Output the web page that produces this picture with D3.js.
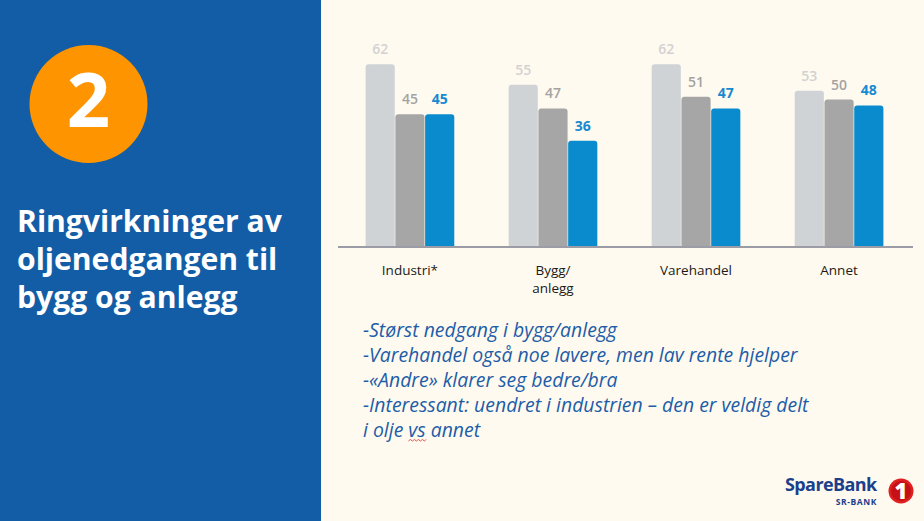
<!DOCTYPE html>
<html><head><meta charset="utf-8">
<script src="https://cdn.jsdelivr.net/npm/d3@7"></script>
<style>html,body{margin:0;padding:0;background:#FFFAEF;overflow:hidden}</style>
</head><body>
<svg id="c" width="924" height="521"></svg>
<script>
const categories = [["Industri*"], ["Bygg/", "anlegg"], ["Varehandel"], ["Annet"]];
const series1 = [62, 55, 62, 53];
const series2 = [45, 47, 51, 50];
const series3 = [45, 36, 47, 48];
const titleLines = ["Ringvirkninger av", "oljenedgangen til", "bygg og anlegg"];
const bullets = ["-Størst nedgang i bygg/anlegg", "-Varehandel også noe lavere, men lav rente hjelper",
  "-«Andre» klarer seg bedre/bra", "-Interessant: uendret i industrien – den er veldig delt", "i olje vs annet"];

const barColors = ["#D0D3D6", "#A6A6A6", "#0A8BCD"];
const labelColors = ["#D2D2D2", "#A3A3A3", "#1689D0"];

const svg = d3.select("#c");
svg.append("rect").attr("width", 924).attr("height", 521).attr("fill", "#FFFAEF");
// left panel
svg.append("rect").attr("x", 0).attr("y", 0).attr("width", 321).attr("height", 521).attr("fill", "#135DA6");
svg.append("circle").attr("cx", 88.5).attr("cy", 104).attr("r", 59).attr("fill", "#FD9400");
svg.append("text").attr("x", 88.5).attr("y", 127).attr("text-anchor", "middle")
  .attr("font-family", "Open Sans").attr("font-weight", 700).attr("font-size", 76).attr("fill", "#fff").text("2");
const tl = svg.append("g");
titleLines.forEach((t, i) => {
  tl.append("text").attr("x", 17).attr("y", 232 + i * 38)
    .attr("font-family", "Open Sans").attr("font-weight", 700).attr("font-size", 26).attr("fill", "#fff").text(t);
});
const tw = tl.selectAll("text").nodes()[0].getComputedTextLength();
tl.selectAll("text").attr("font-size", 26 * 265 / tw);

// chart
const data = categories.map((c, i) => ({ cat: i, vals: [series1[i], series2[i], series3[i]] }));
const x0 = d3.scaleBand().domain(d3.range(categories.length)).range([337, 912]).paddingInner(0.38).paddingOuter(0.2);
const x1 = d3.scaleBand().domain(d3.range(3)).range([0, x0.bandwidth()]).paddingInner(0.02);
const y = d3.scaleLinear().domain([0, 62]).range([246.5, 64.3]);

function topRounded(x, yTop, w, h, r) {
  return `M${x},${yTop + h}V${yTop + r}Q${x},${yTop} ${x + r},${yTop}H${x + w - r}Q${x + w},${yTop} ${x + w},${yTop + r}V${yTop + h}Z`;
}
const g = svg.append("g");
data.forEach(d => {
  d.vals.forEach((v, j) => {
    const bx = x0(d.cat) + x1(j), bw = x1.bandwidth();
    g.append("path").attr("d", topRounded(bx, y(v), bw, y(0) - y(v), 3)).attr("fill", barColors[j]);
    g.append("text").attr("x", bx + bw / 2).attr("y", y(v) - 10).attr("text-anchor", "middle")
      .attr("font-family", "Open Sans").attr("font-weight", j === 2 ? 700 : 600).attr("font-size", 14)
      .attr("fill", labelColors[j]).text(v);
  });
  const lab = g.append("text").attr("text-anchor", "middle").attr("font-family", "Open Sans")
    .attr("font-size", 13.5).attr("fill", "#1a1a1a");
  categories[d.cat].forEach((ln, k) => {
    lab.append("tspan").attr("x", x0(d.cat) + x0.bandwidth() / 2).attr("y", 275 + k * 17.5).text(ln);
  });
});
svg.append("line").attr("x1", 338).attr("x2", 913).attr("y1", 247).attr("y2", 247)
  .attr("stroke", "#9C9CA6").attr("stroke-width", 2);

// bullets
const bl = svg.append("g");
bullets.forEach((t, i) => {
  bl.append("text").attr("x", 363).attr("y", 337 + i * 25).attr("font-family", "Open Sans")
    .attr("font-style", "italic").attr("font-size", 17).attr("fill", "#1D5DA8").text(t);
});
const w4 = bl.selectAll("text").nodes()[3].getComputedTextLength();
bl.selectAll("text").attr("font-size", 17 * 446 / w4);
// spell-check squiggle under "vs"
const last = bl.selectAll("text").nodes()[4];
const pre = last.getSubStringLength(0, 7), vsw = last.getSubStringLength(7, 2);
let sq = "M" + (363 + pre) + ",441";
for (let xx = 363 + pre, k = 0; xx < 363 + pre + vsw; xx += 2, k++) sq += "L" + (xx + 2) + "," + (k % 2 ? 441 : 439.5);
svg.append("path").attr("d", sq).attr("fill", "none").attr("stroke", "#E03030").attr("stroke-width", 0.8);

// logo
svg.append("text").attr("x", 785).attr("y", 491).attr("font-family", "Open Sans").attr("font-weight", 700)
  .attr("font-size", 18).attr("letter-spacing", -0.6).attr("fill", "#1B3F8B").text("SpareBank");
svg.append("text").attr("x", 877).attr("y", 505).attr("text-anchor", "end").attr("font-family", "Open Sans").attr("font-weight", 700)
  .attr("font-size", 8.5).attr("letter-spacing", 0.6).attr("fill", "#1B3F8B").text("SR-BANK");
svg.append("circle").attr("cx", 901).attr("cy", 491).attr("r", 12.5).attr("fill", "#E02020");
svg.append("circle").attr("cx", 901).attr("cy", 491).attr("r", 10).attr("fill", "#C51015");
svg.append("text").attr("x", 901).attr("y", 499).attr("text-anchor", "middle").attr("font-family", "Open Sans")
  .attr("font-weight", 800).attr("font-size", 22).attr("fill", "#fff").text("1");
</script>
</body></html>
